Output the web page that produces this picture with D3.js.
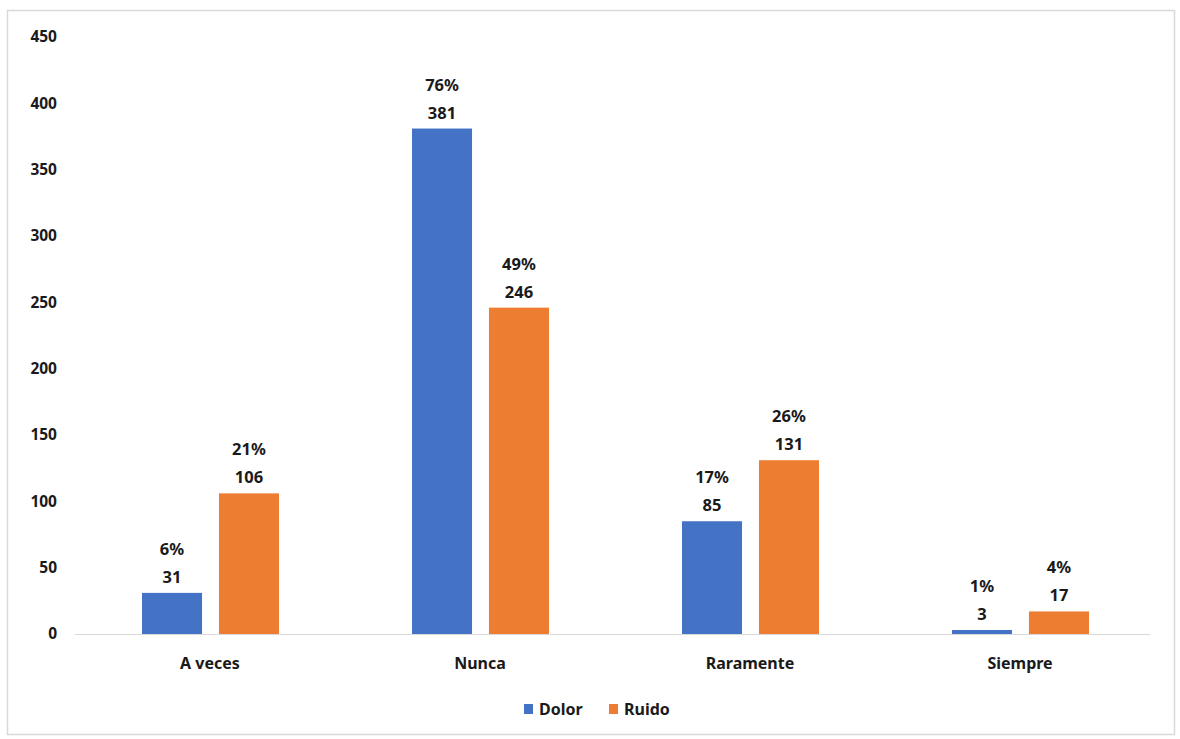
<!DOCTYPE html>
<html><head><meta charset="utf-8">
<script src="https://cdn.jsdelivr.net/npm/d3@7"></script>
<style>body{margin:0;background:#fff;}svg{display:block;font-family:"Noto Sans","Open Sans",sans-serif;}</style>
</head><body><svg id="c" width="1180" height="739"></svg>
<script>
const categories = ["A veces","Nunca","Raramente","Siempre"];
const seriesNames = ["Dolor","Ruido"];
const dolor = [31,381,85,3];
const ruido = [106,246,131,17];
const dolorPct = ["6%","76%","17%","1%"];
const ruidoPct = ["21%","49%","26%","4%"];
const yTicks = [0,50,100,150,200,250,300,350,400,450];
const colors = ["#4472C4","#ED7D31"];

const svg = d3.select("#c");
svg.append("rect").attr("x",7.5).attr("y",10.5).attr("width",1167).attr("height",724)
  .attr("fill","#fff").attr("stroke","#d9d9d9").attr("stroke-width",1.5);

const x0 = d3.scaleBand().domain(categories).range([75,1155]).paddingInner(0).paddingOuter(0);
const x1 = d3.scaleBand().domain(seriesNames).range([0,137]).paddingInner(0.22);
const y = d3.scaleLinear().domain([0,450]).range([634,37]);

svg.append("g").selectAll("text").data(yTicks).join("text")
  .attr("x",57).attr("y",d=>y(d)).attr("dy","0.35em").attr("text-anchor","end")
  .attr("font-size",15.5).attr("font-weight","bold").attr("fill","#1a1a1a").text(d=>d);

svg.append("line").attr("x1",75).attr("x2",1150).attr("y1",y(0)+0.5).attr("y2",y(0)+0.5)
  .attr("stroke","#d9d9d9").attr("stroke-width",1);

const data = categories.map((c,i)=>({c, vals:[
  {s:"Dolor",v:dolor[i],p:dolorPct[i],col:colors[0]},
  {s:"Ruido",v:ruido[i],p:ruidoPct[i],col:colors[1]}]}));

const g = svg.append("g").selectAll("g").data(data).join("g")
  .attr("transform",d=>`translate(${x0(d.c)+x0.bandwidth()/2-68},0)`);

g.selectAll("rect").data(d=>d.vals).join("rect")
  .attr("x",d=>x1(d.s)).attr("width",x1.bandwidth())
  .attr("y",d=>y(d.v)).attr("height",d=>y(0)-y(d.v)).attr("fill",d=>d.col);

g.selectAll("text.v").data(d=>d.vals).join("text").attr("class","v")
  .attr("x",d=>x1(d.s)+x1.bandwidth()/2).attr("y",d=>y(d.v)-10)
  .attr("text-anchor","middle").attr("font-size",16.5).attr("font-weight","bold").attr("fill","#1a1a1a")
  .text(d=>d.v);
g.selectAll("text.p").data(d=>d.vals).join("text").attr("class","p")
  .attr("x",d=>x1(d.s)+x1.bandwidth()/2).attr("y",d=>y(d.v)-38)
  .attr("text-anchor","middle").attr("font-size",16.5).attr("font-weight","bold").attr("fill","#1a1a1a")
  .text(d=>d.p);

svg.append("g").selectAll("text").data(categories).join("text")
  .attr("x",d=>x0(d)+x0.bandwidth()/2).attr("y",663).attr("dy","0.35em").attr("text-anchor","middle")
  .attr("font-size",16).attr("font-weight","bold").attr("fill","#1a1a1a").text(d=>d);

const leg = svg.append("g").attr("transform","translate(524,709)");
const items = leg.selectAll("g").data(seriesNames).join("g")
  .attr("transform",(d,i)=>`translate(${i*85},0)`);
items.append("rect").attr("x",0).attr("y",-5).attr("width",9).attr("height",10).attr("fill",(d,i)=>colors[i]);
items.append("text").attr("x",15).attr("y",0).attr("dy","0.35em").attr("font-size",16).attr("font-weight","bold")
  .attr("fill","#1a1a1a").text(d=>d);
</script></body></html>
